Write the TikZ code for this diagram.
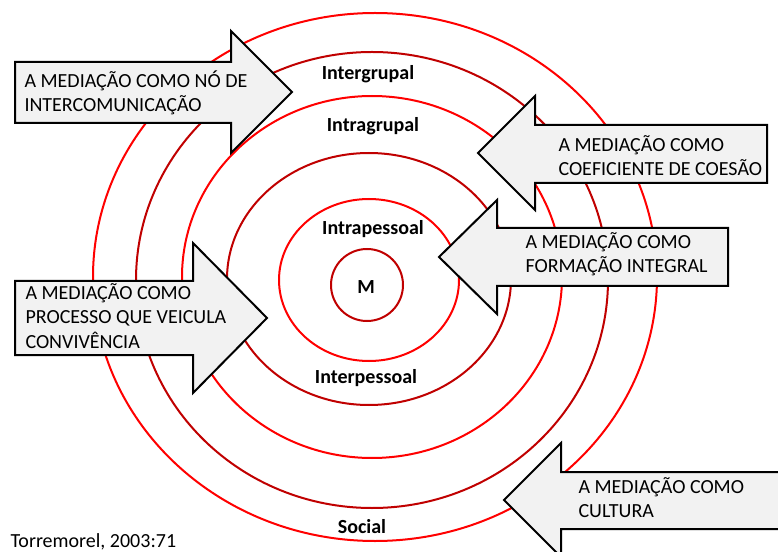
\documentclass[tikz,border=0pt]{standalone}
\usepackage{fontspec}
\setmainfont{Carlito}

\definecolor{ringRed}{RGB}{255,0,0}
\definecolor{ringDark}{RGB}{192,0,0}
\definecolor{arrowFill}{RGB}{242,242,242}

\tikzset{every picture/.style={line width=0.75pt}}
\tikzset{
  ringred/.style={draw=ringRed, line width=1.5pt},
  ringdark/.style={draw=ringDark, line width=1.5pt},
  bigarrow/.style={draw=black, fill=arrowFill, line width=1.5pt, line join=miter},
  lvl/.style={font=\fontsize{15}{18}\selectfont\bfseries, inner sep=0pt, anchor=base},
  msg/.style={font=\fontsize{15}{18}\selectfont, inner sep=0pt, anchor=base west, align=left},
}

\begin{document}
\begin{tikzpicture}[x=0.75pt,y=0.75pt,yscale=-1,xscale=1]
\useasboundingbox (0,0) rectangle (778,552);

%Shape: Ellipse [Social]
\draw [ringred]  (375,277) ellipse (282 and 264) ;
%Shape: Ellipse [Intergrupal]
\draw [ringdark]  (372,280) ellipse (236 and 228) ;
%Shape: Ellipse [Intragrupal]
\draw [ringred]  (372,277) ellipse (190 and 181) ;
%Shape: Ellipse [Interpessoal]
\draw [ringdark]  (369,279) ellipse (142 and 126) ;
%Shape: Ellipse [Intrapessoal]
\draw [ringred]  (369,280) ellipse (90 and 81) ;
%Shape: Circle [M]
\draw [ringdark]  (367,285) circle (36) ;

% Text Node
\draw (368,80) node (intergrupal) [lvl] {Intergrupal};
% Text Node
\draw (373,132) node (intragrupal) [lvl] {Intragrupal};
% Text Node
\draw (373,235) node (intrapessoal) [lvl] {Intrapessoal};
% Text Node
\draw (366,293) node (mcentro) [lvl] {M};
% Text Node
\draw (366,383) node (interpessoal) [lvl] {Interpessoal};
% Text Node
\draw (362,533) node (social) [lvl] {Social};

%Shape: Right Arrow [no]
\draw [bigarrow]  (15,62) -- (231,62) -- (231,31) -- (292,92) -- (231,153) -- (231,123) -- (15,123) -- cycle ;
%Shape: Left Arrow [coesao]
\draw [bigarrow]  (767,125) -- (535,125) -- (535,96) -- (478,153) -- (535,210) -- (535,183) -- (767,183) -- cycle ;
%Shape: Left Arrow [formacao]
\draw [bigarrow]  (728,228) -- (497,228) -- (497,200) -- (439,257) -- (497,314) -- (497,286) -- (728,286) -- cycle ;
%Shape: Right Arrow [processo]
\draw [bigarrow]  (15,281) -- (193,281) -- (193,243) -- (267,318) -- (193,393) -- (193,355) -- (15,355) -- cycle ;
%Shape: Left Arrow [cultura]
\draw [bigarrow]  (795,472) -- (561,472) -- (561,443) -- (504,500) -- (561,557) -- (561,529) -- (795,529) -- cycle ;

% Text Node (base = last line)
\draw (24,112) node (txtno) [msg] {A MEDIAÇÃO COMO NÓ DE\\INTERCOMUNICAÇÃO};
% Text Node
\draw (558,176) node (txtcoesao) [msg] {A MEDIAÇÃO COMO\\COEFICIENTE DE COESÃO};
% Text Node
\draw (525,273) node (txtformacao) [msg] {A MEDIAÇÃO COMO\\FORMAÇÃO INTEGRAL};
% Text Node
\draw (25,348) node (txtprocesso) [msg] {A MEDIAÇÃO COMO\\PROCESSO QUE VEICULA\\CONVIVÊNCIA};
% Text Node
\draw (578,517) node (txtcultura) [msg] {A MEDIAÇÃO COMO\\CULTURA};
% Text Node
\draw (10,547) node (fonte) [msg] {Torremorel, 2003:71};

\end{tikzpicture}
\end{document}
